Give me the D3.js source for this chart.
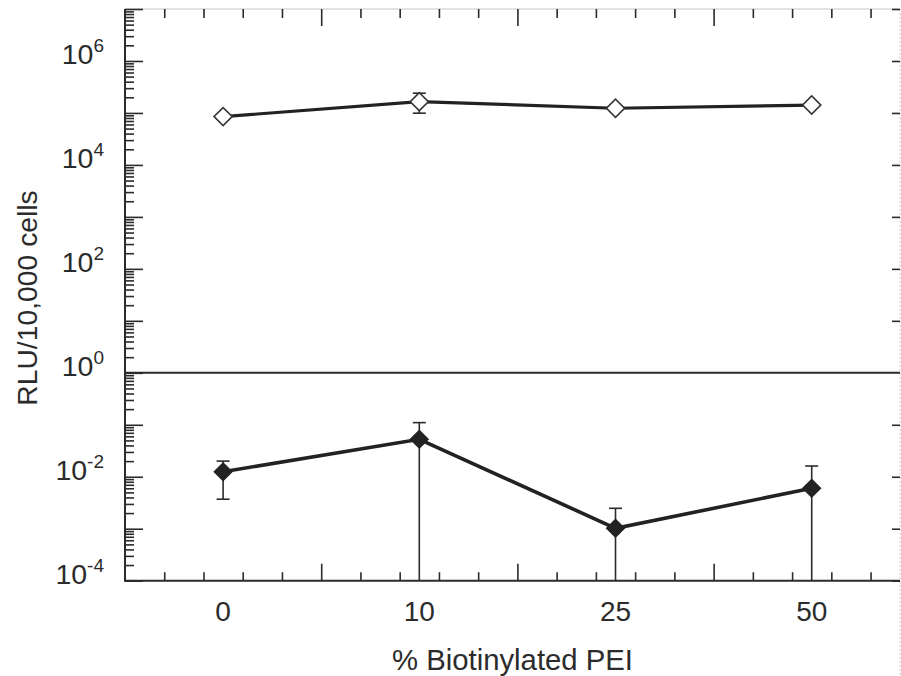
<!DOCTYPE html>
<html>
<head>
<meta charset="utf-8">
<script src="https://cdn.jsdelivr.net/npm/d3@7"></script>
<style>
  html, body { margin: 0; padding: 0; background: #fff; }
  svg { display: block; }
  text { font-family: "Liberation Sans", Arial, sans-serif; fill: #2b2b2b; }
</style>
</head>
<body>
<svg id="chart" width="901" height="676"></svg>
<script>
// ---- data ----
const categories = ["0", "10", "25", "50"];
const openMean = [8.5e4, 1.65e5, 1.23e5, 1.42e5];
const openErrLow = [null, 9.9e4, null, null];
const openErrHigh = [null, 2.4e5, null, null];
const filledMean = [0.0125, 0.0525, 0.00102, 0.0060];
const filledErrLow = [0.0037, 0, 0, 0];          // 0 = bar runs below axis
const filledErrHigh = [0.020, 0.110, 0.00247, 0.0161];
const yLabelExponents = ["-4", "-2", "0", "2", "4", "6"];
const xTitle = "% Biotinylated PEI";
const yTitle = "RLU/10,000 cells";

// ---- layout ----
const svg = d3.select("#chart");
const L = 125, R = 900, T = 9, B = 580.7;
const x = d3.scaleLinear().domain([-0.5, 3.45]).range([L, R]);
const y = d3.scaleLog().domain([1e-4, 1e7]).range([B, T]);
const ink = "#2b2b2b";

// log ticks
const majorVals = d3.range(-4, 8).map(e => Math.pow(10, e));
const minorVals = [];
for (let e = -4; e < 7; e++) for (let k = 2; k <= 9; k++) minorVals.push(k * Math.pow(10, e));

// top frame & right dotted edge
svg.append("line").attr("x1", L).attr("x2", R).attr("y1", T).attr("y2", T)
  .attr("stroke", "#c8c8c8").attr("stroke-width", 1.2);
svg.append("line").attr("x1", R).attr("x2", R).attr("y1", T).attr("y2", 676)
  .attr("stroke", "#c8c8c8").attr("stroke-width", 1).attr("stroke-dasharray", "2,2");

// left axis (inward ticks)
function styleAxis(g) {
  g.select(".domain").remove();
  g.selectAll(".tick line").attr("stroke", ink).attr("stroke-width", 1.6);
  g.selectAll(".tick text").remove();
}
svg.append("g").attr("transform", `translate(${L},0)`)
  .call(d3.axisLeft(y).tickValues(minorVals).tickSize(-9)).call(styleAxis);
svg.append("g").attr("transform", `translate(${L},0)`)
  .call(d3.axisLeft(y).tickValues(majorVals).tickSize(-18)).call(styleAxis);
// right axis (majors only, inward)
svg.append("g").attr("transform", `translate(${R},0)`)
  .call(d3.axisRight(y).tickValues(majorVals.filter(v => v !== 1)).tickSize(-8)).call(styleAxis);

// x ticks every 0.2, majors every 1 from -0.5
const xMinor = [], xMajor = [];
for (let k = 1; ; k++) {
  const v = -0.5 + 0.2 * k;
  if (v > 3.45) break;
  if (k % 5 === 0) xMajor.push(+v.toFixed(2)); else xMinor.push(+v.toFixed(2));
}
svg.append("g").attr("transform", `translate(0,${B})`)
  .call(d3.axisBottom(x).tickValues(xMinor).tickSize(-8.5)).call(styleAxis);
svg.append("g").attr("transform", `translate(0,${B})`)
  .call(d3.axisBottom(x).tickValues(xMajor).tickSize(-17)).call(styleAxis);
svg.append("g").attr("transform", `translate(0,${T})`)
  .call(d3.axisTop(x).tickValues(xMinor).tickSize(-9)).call(styleAxis);
svg.append("g").attr("transform", `translate(0,${T})`)
  .call(d3.axisTop(x).tickValues(xMajor).tickSize(-17)).call(styleAxis);

// axis lines
svg.append("line").attr("x1", L).attr("x2", L).attr("y1", T).attr("y2", B)
  .attr("stroke", ink).attr("stroke-width", 2);
svg.append("line").attr("x1", L - 1).attr("x2", R).attr("y1", B).attr("y2", B)
  .attr("stroke", ink).attr("stroke-width", 2);
// 10^0 break line
svg.append("line").attr("x1", L).attr("x2", R).attr("y1", y(1)).attr("y2", y(1))
  .attr("stroke", ink).attr("stroke-width", 2);

// y tick labels
const yl = svg.append("g");
yLabelExponents.forEach(ex => {
  const t = yl.append("text").attr("x", 104).attr("y", y(Math.pow(10, +ex)) + 3)
    .attr("text-anchor", "end").style("font-size", "28.5px");
  t.append("tspan").text("10");
  t.append("tspan").attr("dy", -12).style("font-size", "19px").text(ex);
});

// x tick labels
svg.append("g").selectAll("text").data(categories).join("text")
  .attr("x", (d, i) => x(i)).attr("y", 620.5).attr("text-anchor", "middle")
  .style("font-size", "28px").text(d => d);

// titles
svg.append("text").attr("x", (L + R) / 2).attr("y", 670).attr("text-anchor", "middle")
  .style("font-size", "29.3px").text(xTitle);
svg.append("text").attr("transform", "translate(37,298) rotate(-90)").attr("text-anchor", "middle")
  .style("font-size", "28.3px").text(yTitle);

// ---- series ----
const line = d3.line().x((d, i) => x(i)).y(d => y(d));
const diamond = d3.symbol().type(d3.symbolSquare).size(165);

function errorBars(means, lows, highs) {
  const g = svg.append("g").attr("stroke", ink).attr("stroke-width", 1.6).attr("fill", "none");
  means.forEach((m, i) => {
    if (highs[i] == null) return;
    const cx = x(i);
    const yHi = y(highs[i]);
    const yLo = lows[i] > 0 ? y(lows[i]) : B;
    g.append("line").attr("x1", cx).attr("x2", cx).attr("y1", yHi).attr("y2", yLo);
    g.append("line").attr("x1", cx - 6.5).attr("x2", cx + 6.5).attr("y1", yHi).attr("y2", yHi);
    if (lows[i] > 0)
      g.append("line").attr("x1", cx - 6.5).attr("x2", cx + 6.5).attr("y1", yLo).attr("y2", yLo);
  });
}

// open series
errorBars(openMean, openErrLow, openErrHigh);
svg.append("path").datum(openMean).attr("d", line)
  .attr("fill", "none").attr("stroke", "#222").attr("stroke-width", 3.2);
svg.append("g").selectAll("path").data(openMean).join("path")
  .attr("d", diamond)
  .attr("transform", (d, i) => `translate(${x(i)},${y(d)}) rotate(45)`)
  .attr("fill", "#fff").attr("stroke", "#333").attr("stroke-width", 1.6);

// filled series
errorBars(filledMean, filledErrLow, filledErrHigh);
svg.append("path").datum(filledMean).attr("d", line)
  .attr("fill", "none").attr("stroke", "#222").attr("stroke-width", 3.6);
svg.append("g").selectAll("path").data(filledMean).join("path")
  .attr("d", diamond)
  .attr("transform", (d, i) => `translate(${x(i)},${y(d)}) rotate(45)`)
  .attr("fill", "#222").attr("stroke", "#222").attr("stroke-width", 1);
</script>
</body>
</html>
